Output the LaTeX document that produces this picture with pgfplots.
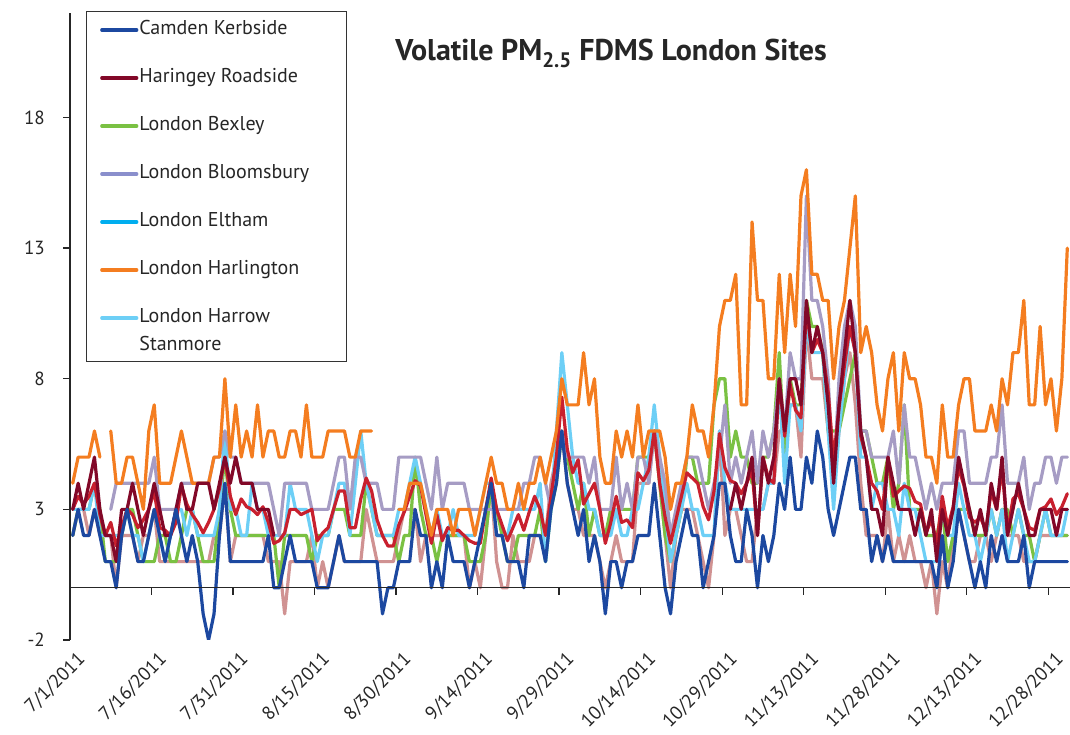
\documentclass[border=0pt]{standalone}
\usepackage{pgfplots}
\pgfplotsset{compat=1.18}
\usepackage{fontspec}
\setmainfont{PT Sans}
\definecolor{cCam}{RGB}{28,72,160}
\definecolor{cHar}{RGB}{130,8,40}
\definecolor{cBex}{RGB}{122,193,67}
\definecolor{cBlo}{RGB}{166,156,196}
\definecolor{cBloL}{RGB}{138,143,204}
\definecolor{cElt}{RGB}{0,174,239}
\definecolor{cHarl}{RGB}{244,125,32}
\definecolor{cHarrow}{RGB}{109,207,246}
\definecolor{cPink}{RGB}{208,146,146}
\definecolor{cRed}{RGB}{200,32,46}
\begin{document}
\begin{tikzpicture}
\path[use as bounding box] (0bp,0bp) rectangle (1070bp,735bp);
\begin{axis}[
  at={(70bp,95bp)}, anchor=south west,
  scale only axis, width=1000bp, height=627bp,
  xmin=0, xmax=184, ymin=-2, ymax=22,
  axis y line*=left, axis x line*=bottom,
  x axis line style={draw=none},
  y axis line style={line width=1.3bp, black!85},
  ytick={-2,3,8,13,18},
  tick align=outside,
  ytick style={line width=1.3bp, black!85},
  major tick length=7bp,
  xtick={0,15,...,180},
  xtick style={draw=none},
  xticklabels={7/1/2011,7/16/2011,7/31/2011,8/15/2011,8/30/2011,9/14/2011,9/29/2011,10/14/2011,10/29/2011,11/13/2011,11/28/2011,12/13/2011,12/28/2011},
  xticklabel style={rotate=45, anchor=north east, inner sep=0pt, yshift=-7bp, xshift=2bp, font=\fontsize{19bp}{22bp}\selectfont, text=black!85},
  yticklabel style={inner xsep=0pt, xshift=-18bp, font=\fontsize{19bp}{22bp}\selectfont, text=black!85},
  /pgf/number format/assume math mode=true,
  unbounded coords=jump,
  every axis plot/.append style={line width=3.2bp, line join=round, line cap=round, mark=none},
  legend cell align=left,
  legend image code/.code={\draw[#1, line width=3.2bp] (0bp,0bp) -- (35bp,0bp);},
  legend style={at={(rel axis cs:0.030,0.99)}, anchor=north west, draw=none, fill=none,
    inner sep=0pt, row sep=27bp, column sep=0bp,
    font=\fontsize{20bp}{27.4bp}\selectfont,
    nodes={inner sep=1bp, text height=14.5bp, text depth=4.5bp, text=black!85}},
]
\addlegendimage{cCam}\addlegendentry{Camden Kerbside}
\addlegendimage{cHar}\addlegendentry{Haringey Roadside}
\addlegendimage{cBex}\addlegendentry{London Bexley}
\addlegendimage{cBloL}\addlegendentry{London Bloomsbury}
\addlegendimage{cElt}\addlegendentry{London Eltham}
\addlegendimage{cHarl}\addlegendentry{London Harlington}
\addlegendimage{cHarrow}\addlegendentry{\parbox[t]{190bp}{\raggedright London Harrow\newline Stanmore}}

% unlabelled series (pink)
\addplot[cPink, forget plot] table[x expr=\coordindex+0.5, y index=0, header=false, row sep=\\] {
2\\3\\3\\2\\3\\2\\2\\2\\0\\2\\
2\\2\\1\\2\\2\\3\\1\\1\\1\\1\\
1\\1\\1\\1\\1\\1\\2\\2\\4\\1\\
2\\2\\2\\2\\2\\2\\1\\1\\1\\-1\\
1\\1\\1\\1\\2\\0\\1\\0\\1\\2\\
1\\1\\1\\1\\3\\2\\1\\1\\1\\1\\
2\\3\\3\\3\\1\\2\\2\\2\\2\\2\\
2\\2\\2\\0\\1\\0\\2\\4\\1\\0\\
0\\2\\1\\1\\1\\2\\2\\2\\4\\5\\
6\\4\\3\\3\\2\\2\\2\\1\\0\\1\\
2\\1\\1\\1\\4\\4\\4\\6\\4\\2\\
0\\2\\3\\3\\3\\2\\1\\0\\2\\6\\
2\\3\\3\\2\\1\\1\\3\\3\\4\\4\\
6\\6\\7\\7\\5\\10\\8\\8\\8\\6\\
4\\6\\8\\9\\7\\4\\2\\2\\2\\1\\
3\\1\\2\\1\\2\\1\\1\\0\\1\\-1\\
1\\0\\2\\3\\2\\1\\1\\2\\2\\1\\
2\\3\\2\\2\\2\\1\\1\\1\\2\\2\\
2\\2\\2\\2\\
};
% London Bexley
\addplot[cBex, forget plot] table[x expr=\coordindex+0.5, y index=0, header=false, row sep=\\] {
2\\3\\3\\3\\4\\3\\1\\1\\1\\2\\
3\\3\\2\\1\\1\\1\\2\\2\\1\\1\\
2\\3\\3\\2\\1\\1\\1\\3\\5\\3\\
2\\2\\2\\2\\2\\2\\2\\2\\0\\2\\
2\\2\\2\\2\\1\\2\\2\\2\\3\\3\\
3\\2\\2\\2\\4\\3\\2\\2\\2\\2\\
1\\2\\2\\5\\3\\2\\2\\1\\2\\2\\
2\\2\\2\\1\\1\\1\\2\\4\\3\\2\\
1\\1\\2\\2\\2\\2\\3\\1\\3\\4\\
6\\5\\4\\3\\4\\2\\3\\2\\2\\3\\
3\\3\\3\\3\\5\\5\\5\\6\\4\\2\\
1\\2\\3\\5\\5\\4\\4\\4\\7\\8\\
8\\5\\6\\5\\5\\4\\4\\5\\5\\6\\
9\\5\\8\\7\\7\\11\\10\\10\\9\\6\\
6\\6\\7\\8\\9\\6\\6\\5\\4\\4\\
5\\3\\4\\7\\3\\3\\3\\2\\2\\2\\
3\\1\\2\\3\\3\\3\\2\\2\\2\\3\\
2\\3\\3\\2\\3\\2\\2\\1\\2\\3\\
2\\2\\2\\2\\
};
% London Harrow Stanmore
\addplot[cHarrow, forget plot] table[x expr=\coordindex+0.5, y index=0, header=false, row sep=\\] {
3\\3\\3\\3\\4\\2\\2\\2\\2\\2\\
3\\2\\2\\1\\2\\3\\2\\1\\2\\3\\
3\\2\\3\\2\\2\\2\\2\\3\\6\\3\\
3\\2\\2\\4\\3\\3\\2\\2\\2\\2\\
4\\3\\3\\3\\2\\1\\2\\2\\3\\4\\
4\\2\\4\\6\\4\\3\\2\\2\\2\\2\\
3\\3\\4\\5\\4\\3\\2\\3\\2\\2\\
3\\2\\2\\2\\2\\3\\4\\4\\2\\2\\
2\\3\\3\\3\\3\\3\\4\\1\\3\\6\\
9\\7\\5\\4\\4\\3\\3\\2\\2\\2\\
3\\2\\2\\3\\3\\4\\5\\7\\5\\3\\
1\\2\\3\\4\\3\\3\\2\\2\\2\\6\\
4\\3\\3\\3\\3\\3\\3\\3\\4\\4\\
8\\4\\7\\7\\6\\10\\9\\9\\9\\6\\
3\\6\\8\\10\\9\\5\\5\\3\\4\\4\\
3\\3\\2\\4\\3\\3\\2\\1\\1\\1\\
3\\2\\2\\4\\3\\2\\2\\1\\2\\3\\
2\\3\\1\\2\\3\\2\\1\\1\\2\\3\\
2\\2\\2\\3\\
};
% London Bloomsbury
\addplot[cBlo, forget plot] table[x expr=\coordindex+0.5, y index=0, header=false, row sep=\\] {
nan\\nan\\nan\\nan\\nan\\nan\\nan\\3\\4\\4\\
4\\4\\4\\4\\4\\5\\3\\3\\3\\3\\
4\\4\\4\\4\\4\\4\\5\\5\\6\\5\\
5\\4\\4\\4\\4\\4\\4\\3\\2\\4\\
4\\4\\4\\4\\3\\3\\3\\3\\4\\5\\
5\\3\\5\\5\\4\\4\\4\\3\\3\\3\\
5\\5\\5\\5\\5\\4\\3\\5\\3\\4\\
4\\4\\4\\3\\3\\3\\3\\3\\3\\3\\
3\\3\\3\\4\\4\\5\\5\\4\\3\\5\\
6\\5\\5\\5\\5\\4\\5\\3\\3\\3\\
5\\3\\4\\3\\5\\5\\4\\6\\5\\4\\
2\\3\\4\\5\\5\\5\\4\\3\\4\\5\\
7\\4\\5\\4\\5\\6\\4\\6\\5\\6\\
8\\6\\9\\8\\8\\15\\11\\11\\10\\8\\
4\\8\\10\\11\\10\\6\\6\\5\\5\\5\\
5\\6\\4\\7\\5\\5\\4\\3\\4\\3\\
4\\4\\4\\6\\6\\4\\4\\4\\4\\5\\
5\\7\\4\\4\\4\\5\\3\\4\\4\\5\\
5\\4\\5\\5\\
};
% unlabelled series (red)
\addplot[cRed, forget plot] table[x expr=\coordindex+0.5, y index=0, header=false, row sep=\\] {
3\\3.5\\3.2\\3.5\\4\\2.8\\2\\2.5\\1.6\\2.3\\
3\\2.8\\2.3\\2.6\\3\\3.7\\2.3\\2.2\\2\\2.5\\
3.9\\3.2\\2.8\\2.5\\2.1\\2.5\\3\\3.8\\5\\3.5\\
2.8\\3.4\\3.1\\3\\2.8\\3.1\\2.5\\1.7\\1.8\\2.1\\
3\\3\\2.8\\2.9\\3\\1.8\\2.1\\2.3\\3\\3.7\\
3.7\\2.3\\2.3\\3.4\\4.2\\3.7\\2.6\\2\\1.6\\1.6\\
2.4\\2.9\\3.5\\4.1\\3.9\\2.8\\1.7\\2.8\\1.8\\2.3\\
2.2\\2.2\\2\\1.8\\1.7\\1.7\\3\\4.2\\3\\2.4\\
1.8\\2.3\\2.8\\2.2\\2.9\\3.5\\3\\2\\3.5\\5\\
7.3\\5.3\\4.4\\4.9\\3.2\\3.6\\4\\3\\1.7\\2.5\\
3.5\\2.5\\2.6\\2.3\\4.4\\4.1\\4.5\\6\\4\\2.7\\
1.7\\2.6\\3.5\\4.4\\4.2\\4\\3.1\\2.6\\3.7\\5.9\\
4.6\\4.1\\4\\3.6\\4\\4.5\\2\\5\\4.2\\4\\
8\\5.8\\7.8\\6.8\\6.5\\10.7\\9\\9.5\\9\\7.5\\
4.9\\6.9\\8.5\\10\\9\\5.8\\5\\4\\3.7\\3\\
5\\3.5\\3.7\\3.9\\3.8\\3.3\\3.2\\2.1\\2.6\\1.7\\
3.5\\2.3\\3.1\\4.6\\3.9\\2.7\\2.5\\2.7\\2.2\\3.7\\
3\\4.6\\2.1\\3.4\\3.6\\3\\2.3\\2.2\\3\\3.1\\
3.4\\2.8\\3.1\\3.6\\
};
% London Harlington
\addplot[cHarl, forget plot] table[x expr=\coordindex+0.5, y index=0, header=false, row sep=\\] {
4\\5\\5\\5\\6\\5\\nan\\6\\4\\4\\
5\\5\\4\\3\\6\\7\\4\\4\\4\\5\\
6\\5\\4\\4\\4\\4\\5\\5\\8\\5\\
7\\5\\6\\5\\7\\5\\6\\6\\5\\5\\
6\\6\\5\\7\\5\\5\\5\\6\\6\\6\\
6\\5\\5\\6\\6\\6\\nan\\nan\\nan\\nan\\
3\\3\\4\\4\\4\\3\\2\\3\\3\\3\\
2\\3\\3\\3\\2\\3\\4\\5\\4\\4\\
3\\3\\4\\3\\4\\4\\5\\4\\5\\6\\
8\\7\\7\\7\\9\\7\\8\\5\\4\\4\\
6\\5\\6\\5\\7\\5\\6\\6\\6\\5\\
3\\4\\4\\5\\7\\6\\6\\5\\7\\10\\
11\\11\\12\\7\\7\\14\\11\\11\\8\\8\\
12\\9\\12\\10\\15\\16\\12\\12\\11\\11\\
8\\10\\11\\13\\15\\9\\10\\9\\7\\6\\
8\\9\\6\\9\\8\\8\\7\\5\\5\\4\\
7\\5\\5\\7\\8\\8\\6\\6\\6\\7\\
6\\8\\7\\9\\9\\11\\7\\7\\10\\7\\
8\\6\\8\\13\\
};
% Haringey Roadside
\addplot[cHar, forget plot] table[x expr=\coordindex+0.5, y index=0, header=false, row sep=\\] {
3\\4\\3\\4\\5\\3\\2\\2\\1\\3\\
3\\4\\3\\2\\3\\4\\3\\2\\2\\3\\
4\\3\\3\\4\\4\\4\\3\\4\\5\\4\\
5\\4\\4\\4\\3\\3\\3\\2\\nan\\nan\\
nan\\nan\\nan\\nan\\nan\\nan\\nan\\nan\\nan\\nan\\
nan\\nan\\nan\\nan\\nan\\nan\\nan\\nan\\nan\\nan\\
nan\\nan\\nan\\nan\\nan\\nan\\nan\\nan\\nan\\nan\\
nan\\nan\\nan\\nan\\nan\\nan\\nan\\nan\\nan\\nan\\
nan\\nan\\nan\\nan\\nan\\nan\\nan\\nan\\nan\\nan\\
nan\\nan\\nan\\nan\\nan\\nan\\nan\\nan\\nan\\nan\\
nan\\nan\\nan\\nan\\nan\\nan\\nan\\nan\\nan\\nan\\
nan\\nan\\nan\\nan\\nan\\nan\\nan\\nan\\nan\\nan\\
nan\\3\\4\\3\\4\\5\\2\\5\\4\\5\\
8\\6\\8\\8\\7\\11\\9\\10\\9\\7\\
4\\7\\9\\11\\9\\6\\5\\3\\3\\2\\
5\\4\\3\\3\\3\\2\\3\\2\\3\\1\\
3\\2\\3\\5\\4\\3\\2\\3\\2\\4\\
3\\5\\2\\3\\4\\3\\2\\2\\3\\3\\
3\\2\\3\\3\\
};
% Camden Kerbside
\addplot[cCam, forget plot] table[x expr=\coordindex+0.5, y index=0, header=false, row sep=\\] {
2\\3\\2\\2\\3\\2\\1\\1\\0\\2\\
3\\2\\1\\1\\2\\3\\2\\1\\2\\3\\
2\\1\\2\\1\\-1\\-2\\-1\\2\\4\\1\\
1\\1\\1\\1\\1\\1\\2\\0\\0\\1\\
2\\1\\1\\1\\1\\0\\0\\0\\1\\2\\
1\\1\\1\\1\\1\\1\\1\\-1\\0\\0\\
1\\1\\1\\3\\2\\2\\0\\1\\0\\2\\
1\\1\\1\\0\\1\\2\\3\\4\\2\\2\\
1\\1\\1\\0\\2\\2\\2\\1\\3\\4\\
6\\4\\3\\2\\3\\1\\2\\1\\-1\\1\\
1\\0\\1\\1\\2\\2\\2\\4\\2\\0\\
-1\\1\\2\\3\\2\\2\\0\\1\\2\\4\\
4\\2\\1\\1\\3\\2\\0\\2\\1\\2\\
4\\3\\5\\3\\3\\5\\4\\6\\5\\3\\
2\\3\\4\\5\\5\\3\\3\\1\\2\\1\\
2\\1\\1\\1\\1\\1\\1\\1\\1\\0\\
2\\0\\1\\3\\2\\1\\0\\1\\0\\2\\
1\\2\\1\\1\\1\\2\\0\\1\\1\\1\\
1\\1\\1\\1\\
};
\draw[line width=1.3bp, black!85] (axis cs:0,0) -- (axis cs:184,0);
\pgfplotsinvokeforeach{15,30,...,180}{\draw[line width=1.3bp, black!85] (axis cs:#1,0) -- ++(0bp,-7bp);}
\end{axis}
\draw[line width=1bp, black!80] (86bp,373bp) rectangle (346bp,723bp);
\node[anchor=base, font=\bfseries\fontsize{30bp}{34bp}\selectfont, text=black!85] at (611bp,674bp) {Volatile PM\textsubscript{2.5} FDMS London Sites};
\end{tikzpicture}
\end{document}
